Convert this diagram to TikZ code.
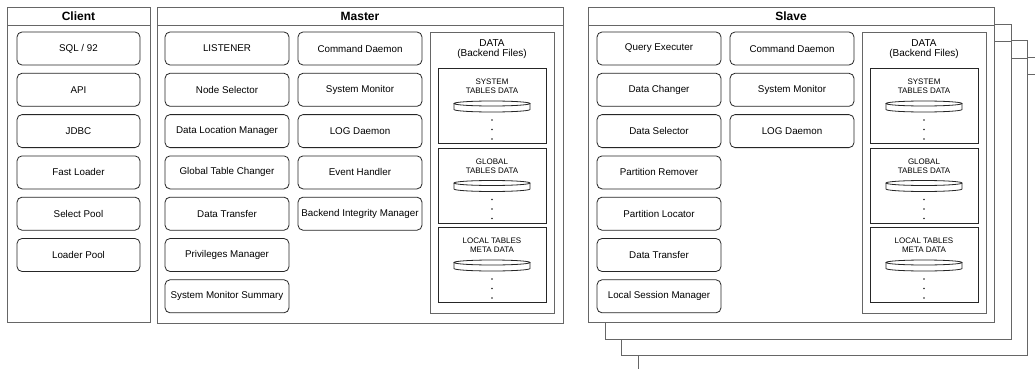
\documentclass[tikz,border=0pt]{standalone}
\usepackage{fontspec}
\setmainfont{Liberation Sans}
\usetikzlibrary{positioning}

\begin{document}
\begin{tikzpicture}[x=1pt, y=-1pt, line width=0.8pt,
    panel/.style={draw=black!60, fill=white, anchor=north west, inner sep=0pt,
      minimum width=406pt, minimum height=315pt},
    heading/.style={font=\fontsize{12}{14}\selectfont\bfseries},
    module/.style={draw=black!85, rounded corners=5pt, minimum width=124pt,
      minimum height=33pt, inner sep=2pt, font=\fontsize{9.8}{11}\selectfont},
    store/.style={draw=black!60, anchor=north west, inner sep=0pt,
      minimum width=124pt, minimum height=281pt},
    tablebox/.style={draw=black!85, anchor=north west, inner sep=0pt,
      minimum width=108pt, minimum height=75pt},
    disk/.pic={
      \draw[black!85, fill=white] (-38,0) -- (-38,6)
        arc[start angle=180, end angle=360, x radius=38pt, y radius=2.5pt] -- (38,0);
      \draw[black!85] (0,0) ellipse[x radius=38pt, y radius=2.5pt];
    }]
  \clip (0,0) rectangle (1035,369);

  % client side
  \node[panel, minimum width=143pt] (client) at (7,7) {};
  \draw[black!60] (client.north west) ++(0,18) -- ++(143,0);
  \node[heading] (clienttitle) at (78.5,16) {Client};
  \foreach \name [count=\i from 0] in {SQL / 92, API, JDBC, Fast Loader, Select Pool, Loader Pool}
    \node[module, minimum width=123pt] (cl\i) at (78.5,48.5+41.3*\i) {\name};

  % master
  \node[panel, minimum height=316pt] (master) at (157,7) {};
  \draw[black!60] (master.north west) ++(0,18) -- ++(406,0);
  \node[heading] (mastertitle) at (360,16) {Master};
  \foreach \name [count=\i from 0] in {LISTENER, Node Selector, Data Location Manager,
      Global Table Changer, Data Transfer, Privileges Manager, System Monitor Summary}
    \node[module] (ma\i) at (227,48.5+41.3*\i) {\name};
  \foreach \name [count=\i from 0] in {Command Daemon, System Monitor, LOG Daemon,
      Event Handler, Backend Integrity Manager}
    \node[module] (mb\i) at (360,48.5+41.3*\i) {\name};

  % slaves, stacked back to front
  \foreach \k in {3,2,1} {
    \node[panel] (slave\k) at (588+16.6*\k,7+16.6*\k) {};
    \draw[black!60] (slave\k.north west) ++(0,18) -- ++(406,0);
  }
  \node[panel] (slave) at (588,7) {};
  \draw[black!60] (slave.north west) ++(0,18) -- ++(406,0);
  \node[heading] (slavetitle) at (791,16) {Slave};
  \foreach \name [count=\i from 0] in {Query Executer, Data Changer, Data Selector,
      Partition Remover, Partition Locator, Data Transfer, Local Session Manager}
    \node[module] (sa\i) at (659,48.5+41.3*\i) {\name};
  \foreach \name [count=\i from 0] in {Command Daemon, System Monitor, LOG Daemon}
    \node[module] (sb\i) at (792,48.5+41.3*\i) {\name};

  % backend files
  \foreach \s/\x in {m/430, s/862} {
    \node[store] (\s data) at (\x,32) {};
    \node[align=center, font=\fontsize{10}{10}\selectfont] (\s datatitle)
      at (\x+62,49) {DATA\\(Backend Files)};
    \foreach \t/\lbl in {0/{SYSTEM\\TABLES DATA}, 1/{GLOBAL\\TABLES DATA},
        2/{LOCAL TABLES\\META DATA}} {
      \node[tablebox] (\s tab\t) at (\x+8,68+79.5*\t) {};
      \node[align=center, font=\fontsize{8}{9}\selectfont] (\s tablbl\t)
        at (\x+62,86.5+79.5*\t) {\lbl};
      \pic at (\x+62,103.5+79.5*\t) {disk};
      \foreach \d in {0,1,2}
        \fill[black!85] (\x+62,120+79.5*\t+9.5*\d) circle (0.8);
    }
  }
\end{tikzpicture}
\end{document}
